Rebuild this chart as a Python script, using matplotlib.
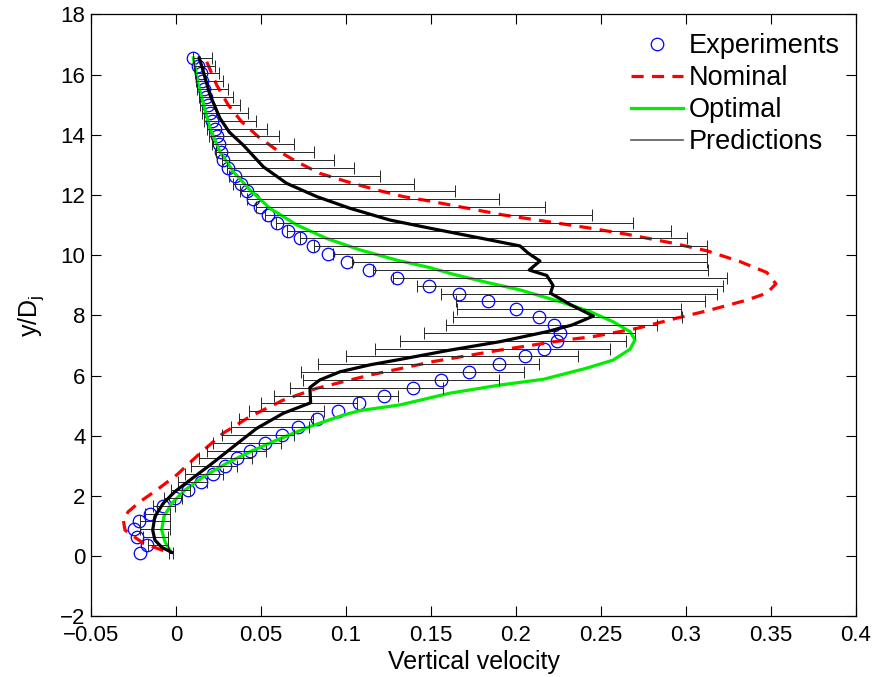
import matplotlib
matplotlib.use("Agg")
import numpy as np
import matplotlib.pyplot as plt

# ── Data ──────────────────────────────────────────────────────────────────────

# height levels y/Dj of the measurements and prediction bands
Y_LEVELS = [16.56, 16.30, 16.04, 15.78, 15.52, 15.26, 14.99, 14.73, 14.47, 14.21,
            13.95, 13.69, 13.43, 13.17, 12.91, 12.65, 12.38, 12.12, 11.86, 11.60,
            11.34, 11.08, 10.82, 10.56, 10.30, 10.04, 9.77, 9.51, 9.25, 8.99,
            8.73, 8.47, 8.21, 7.95, 7.69, 7.43, 7.16, 6.90, 6.64, 6.38,
            6.12, 5.86, 5.60, 5.34, 5.08, 4.82, 4.55, 4.29, 4.03, 3.77,
            3.51, 3.25, 2.99, 2.73, 2.47, 2.21, 1.94, 1.68, 1.42, 1.16,
            0.90, 0.64, 0.38, 0.12]

EXPERIMENTS = [0.0098, 0.0131, 0.0145, 0.0155, 0.0167, 0.0176, 0.0188, 0.0200, 0.0214, 0.0228,
               0.0239, 0.0253, 0.0263, 0.0278, 0.0308, 0.0347, 0.0380, 0.0416, 0.0451, 0.0494,
               0.0543, 0.0592, 0.0661, 0.0729, 0.0808, 0.0896, 0.1004, 0.1137, 0.1298, 0.1488,
               0.1667, 0.1836, 0.1998, 0.2137, 0.2225, 0.2259, 0.2239, 0.2166, 0.2053, 0.1898,
               0.1725, 0.1557, 0.1392, 0.1226, 0.1076, 0.0951, 0.0831, 0.0719, 0.0622, 0.0524,
               0.0435, 0.0357, 0.0288, 0.0220, 0.0145, 0.0072, -0.0006, -0.0075, -0.0153, -0.0216,
               -0.0247, -0.0231, -0.0169, -0.0212]

PRED_LOW = [0.0098, 0.0106, 0.0112, 0.0118, 0.0125, 0.0133, 0.0141, 0.0153, 0.0167, 0.0180,
            0.0196, 0.0214, 0.0233, 0.0269, 0.0302, 0.0314, 0.0337, 0.0376, 0.0420, 0.0471,
            0.0524, 0.0588, 0.0655, 0.0729, 0.0812, 0.0925, 0.1033, 0.1157, 0.1275, 0.1416,
            0.1557, 0.1647, 0.1651, 0.1631, 0.1586, 0.1461, 0.1318, 0.1169, 0.1000, 0.0837,
            0.0733, 0.0749, 0.0671, 0.0576, 0.0498, 0.0431, 0.0373, 0.0322, 0.0269, 0.0220,
            0.0180, 0.0137, 0.0086, 0.0053, 0.0014, -0.0029, -0.0069, -0.0137, -0.0182, -0.0212,
            -0.0212, -0.0192, -0.0163, -0.0039]

PRED_HIGH = [0.0210, 0.0229, 0.0253, 0.0278, 0.0304, 0.0337, 0.0376, 0.0425, 0.0471, 0.0533,
             0.0606, 0.0696, 0.0812, 0.0929, 0.1047, 0.1200, 0.1402, 0.1641, 0.1900, 0.2171,
             0.2445, 0.2690, 0.2910, 0.3008, 0.3125, 0.3125, 0.3125, 0.3127, 0.3243, 0.3220,
             0.3180, 0.3112, 0.2969, 0.2975, 0.2827, 0.2702, 0.2647, 0.2553, 0.2363, 0.2135,
             0.2049, 0.1900, 0.1573, 0.1304, 0.1063, 0.0873, 0.0804, 0.0784, 0.0694, 0.0616,
             0.0529, 0.0445, 0.0357, 0.0278, 0.0180, 0.0082, 0.0033, -0.0006, -0.0035, -0.0035,
             -0.0035, -0.0045, -0.0045, -0.0020]

# mean prediction (thick black curve)
MEAN_V = [0.0137, 0.0161, 0.0200, 0.0259, 0.0314, 0.0396, 0.0514, 0.0651, 0.0828, 0.1024,
          0.1259, 0.1494, 0.1828, 0.2024, 0.2072, 0.2141, 0.2078, 0.2181, 0.2218, 0.2203,
          0.2324, 0.2455, 0.2328, 0.2181, 0.1906, 0.1612, 0.1318, 0.1141, 0.0965, 0.0847,
          0.0788, 0.0792, 0.0631, 0.0475, 0.0337, 0.0200, 0.0082, -0.0006, -0.0075, -0.0124,
          -0.0137, -0.0124, -0.0084, -0.0025]
MEAN_Y = [16.56, 16.10, 15.33, 14.55, 14.09, 13.66, 12.94, 12.39, 11.95, 11.56,
          11.17, 10.90, 10.53, 10.31, 10.07, 9.81, 9.51, 9.33, 9.00, 8.74,
          8.35, 7.98, 7.68, 7.46, 7.13, 6.85, 6.54, 6.36, 6.13, 5.86,
          5.61, 5.10, 4.75, 4.25, 3.64, 3.03, 2.53, 2.15, 1.76, 1.32,
          0.87, 0.54, 0.30, 0.13]

OPTIMAL_V = [0.0102, 0.0131, 0.0161, 0.0200, 0.0259, 0.0337, 0.0435, 0.0553, 0.0710, 0.0886,
             0.1082, 0.1298, 0.1494, 0.1631, 0.1828, 0.2024, 0.2259, 0.2435, 0.2572, 0.2671,
             0.2700, 0.2671, 0.2572, 0.2416, 0.2161, 0.1906, 0.1612, 0.1318, 0.1082, 0.0984,
             0.0788, 0.0592, 0.0435, 0.0298, 0.0161, 0.0053, -0.0025, -0.0071, -0.0084, -0.0065,
             -0.0035]
OPTIMAL_Y = [16.56, 15.66, 15.05, 14.22, 13.44, 12.78, 12.17, 11.56, 11.01, 10.56,
             10.18, 9.84, 9.59, 9.37, 9.10, 8.85, 8.46, 8.13, 7.79, 7.46,
             7.19, 6.88, 6.52, 6.25, 5.88, 5.69, 5.42, 5.03, 4.84, 4.69,
             4.31, 3.86, 3.47, 3.09, 2.64, 2.20, 1.76, 1.32, 0.87, 0.49,
             0.19]

NOMINAL_V = [0.0181, 0.0239, 0.0308, 0.0386, 0.0484, 0.0592, 0.0710, 0.0847, 0.1004, 0.1181,
             0.1337, 0.1494, 0.1671, 0.1925, 0.2161, 0.2416, 0.2651, 0.2925, 0.3122, 0.3318,
             0.3475, 0.3529, 0.3475, 0.3357, 0.3141, 0.2945, 0.2710, 0.2455, 0.2298, 0.1906,
             0.1514, 0.1141, 0.0828, 0.0631, 0.0435, 0.0278, 0.0141, 0.0004, -0.0114, -0.0212,
             -0.0281, -0.0310, -0.0300, -0.0192, -0.0055]
NOMINAL_Y = [16.43, 15.66, 14.99, 14.44, 13.94, 13.50, 13.11, 12.72, 12.45, 12.17,
             11.95, 11.80, 11.61, 11.34, 11.14, 10.92, 10.70, 10.40, 10.15, 9.79,
             9.43, 9.05, 8.74, 8.51, 8.18, 7.91, 7.57, 7.30, 7.19, 6.85,
             6.47, 6.02, 5.58, 5.19, 4.64, 4.09, 3.42, 2.70, 2.20, 1.81,
             1.48, 1.21, 0.87, 0.43, 0.15]

X_TICKS = [-0.05, 0, 0.05, 0.1, 0.15, 0.2, 0.25, 0.3, 0.35, 0.4]
X_TICK_LABELS = ["\u22120.05", "0", "0.05", "0.1", "0.15", "0.2", "0.25", "0.3", "0.35", "0.4"]
Y_TICKS = [-2, 0, 2, 4, 6, 8, 10, 12, 14, 16, 18]
Y_TICK_LABELS = ["\u22122", "0", "2", "4", "6", "8", "10", "12", "14", "16", "18"]

# ── Plot ──────────────────────────────────────────────────────────────────────

plt.rcParams["font.family"] = ["Liberation Sans", "DejaVu Sans"]

fig = plt.figure(figsize=(8.73, 6.77), dpi=100)
ax = fig.add_axes([0.1042, 0.0894, 0.8763, 0.8892])

y_lev = np.array(Y_LEVELS)
lo = np.array(PRED_LOW)
hi = np.array(PRED_HIGH)
mid = (lo + hi) / 2

exp_h, = ax.plot(EXPERIMENTS, Y_LEVELS, "o", mfc="none", mec="blue",
                 mew=0.9, ms=9, zorder=2, label="Experiments")
nom_h, = ax.plot(NOMINAL_V, NOMINAL_Y, color="red", lw=2.3,
                 ls=(0, (3.8, 2.6)), zorder=3, label="Nominal")
opt_h, = ax.plot(OPTIMAL_V, OPTIMAL_Y, color="#00ee00", lw=2.3,
                 zorder=3, label="Optimal")
ax.errorbar(mid, y_lev, xerr=[mid - lo, hi - mid], fmt="none",
            ecolor="0.15", elinewidth=0.7, capsize=4, capthick=0.7, zorder=4)
ax.plot(MEAN_V, MEAN_Y, color="black", lw=2.3, zorder=5)
pred_h, = ax.plot([], [], color="0.35", lw=1.2, label="Predictions")

ax.set_xlim(-0.05, 0.4)
ax.set_ylim(-2, 18)
ax.set_xticks(X_TICKS)
ax.set_xticklabels(X_TICK_LABELS)
ax.set_yticks(Y_TICKS)
ax.set_yticklabels(Y_TICK_LABELS)
ax.tick_params(direction="in", length=7, width=0.8, top=True, right=True,
               labelsize=16, pad=4)
ax.tick_params(axis="x", pad=6)
for sp in ax.spines.values():
    sp.set_linewidth(0.9)

ax.set_xlabel("Vertical velocity", fontsize=18, labelpad=3)
ax.set_ylabel("y/D$_\\mathregular{j}$", fontsize=18, labelpad=10)

ax.legend(handles=[exp_h, nom_h, opt_h, pred_h], loc="upper right",
          bbox_to_anchor=(1.003, 1.0), frameon=False, fontsize=19.5,
          handlelength=1.9, handletextpad=0.2, labelspacing=0.22,
          borderpad=0.2)

fig.savefig("out.png", dpi=100)
